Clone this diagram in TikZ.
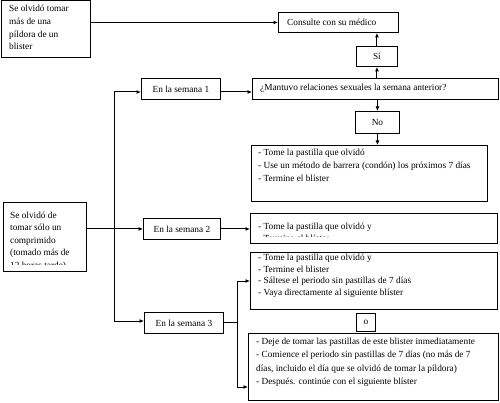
\documentclass[tikz,border=0pt]{standalone}
\usepackage{fontspec}
\setmainfont{Liberation Serif}
\usetikzlibrary{arrows.meta,calc}
\begin{document}
\begin{tikzpicture}[x=1pt,y=-1pt,
  box/.style={draw,line width=0.9pt,inner sep=0pt},
  txt/.style={anchor=north west,inner sep=0pt,align=left,font=\fontsize{9.3}{13}\selectfont},
  ctxt/.style={inner sep=0pt,font=\fontsize{9.3}{13}\selectfont},
  arr/.style={line width=1pt,-{Latex[length=4.5pt,width=4pt]}},
  ln/.style={line width=1pt}]
\useasboundingbox (0,0) rectangle (500,403);
% boxes
\node[box,minimum width=89.5pt,minimum height=56.5pt,anchor=north west] (A) at (0.5,0.5) {};
\node[txt,font=\fontsize{9.3}{12.7}\selectfont] at (9,5) {Se olvidó tomar\\más de una\\píldora de un\\blister};
\node[box,minimum width=120pt,minimum height=20pt,anchor=north west] (cons) at (278,12) {};
\node[ctxt,anchor=west] at (287,22) {Consulte con su médico};
\node[box,minimum width=41pt,minimum height=20pt,anchor=north west] (si) at (356,46) {};
\node[ctxt] at (si.center) {Sí};
\node[box,minimum width=246pt,minimum height=21pt,anchor=north west] (q) at (252,78) {};
\node[ctxt,anchor=west] at (260,88.5) {¿Mantuvo relaciones sexuales la semana anterior?};
\node[box,minimum width=44pt,minimum height=22pt,anchor=north west] (no) at (355,111) {};
\node[ctxt] at (no.center) {No};
\node[box,minimum width=236pt,minimum height=56pt,anchor=north west] (b1) at (251,145) {};
\node[txt] at (258,149) {- Tome la pastilla que olvidó\\- Use un método de barrera (condón) los próximos 7 días\\- Termine el blíster};
\node[box,minimum width=79pt,minimum height=21pt,anchor=north west] (s1) at (141,78) {};
\node[ctxt] at (s1.center) {En la semana 1};
\node[box,minimum width=77pt,minimum height=21pt,anchor=north west] (s2) at (143,218) {};
\node[ctxt] at (s2.center) {En la semana 2};
\node[box,minimum width=79pt,minimum height=21pt,anchor=north west] (s3) at (144,312) {};
\node[ctxt] at (s3.center) {En la semana 3};
\node[box,minimum width=83pt,minimum height=69pt,anchor=north west] (C) at (3,202) {};
\begin{scope}
\clip (3,202) rectangle (86,264);
\node[txt,font=\fontsize{9.3}{12.5}\selectfont] at (10,211.5) {Se olvidó de\\tomar sólo un\\comprimido\\(tomado más de\\12 horas tarde)};
\end{scope}
\node[box,minimum width=247pt,minimum height=30pt,anchor=north west] (b2) at (250,213) {};
\begin{scope}
\clip (250,213) rectangle (497,237);
\node[txt,font=\fontsize{9.3}{12}\selectfont] at (258,223) {- Tome la pastilla que olvidó y\\- Termine el blíster};
\end{scope}
\node[box,minimum width=247pt,minimum height=57pt,anchor=north west] (b3) at (250,252) {};
\node[txt,font=\fontsize{9.3}{11.5}\selectfont] at (258,254) {- Tome la pastilla que olvidó y\\- Termine el blister\\- Sáltese el periodo sin pastillas de 7 días\\- Vaya directamente al siguiente blíster};
\node[box,minimum width=19pt,minimum height=18pt,anchor=north west] (o) at (356,313) {};
\node[ctxt] at (o.center) {o};
\node[box,minimum width=250pt,minimum height=67pt,anchor=north west] (b4) at (248,333) {};
\node[txt,font=\fontsize{9.3}{13.3}\selectfont] at (256,338) {- Deje de tomar las pastillas de este blister inmediatamente\\- Comience el periodo sin pastillas de 7 días (no más de 7\\días, incluido el día que se olvidó de tomar la píldora)\\- Después. continúe con el siguiente blíster};
% connectors
\coordinate (t1) at (114,92);
\coordinate (t3) at (114,321);
\coordinate (j1) at (237,281);
\coordinate (j2) at (237,387);
\coordinate (j0) at (237,322);
\draw[arr] (A.east |- cons) -- (cons.west);
\draw[arr] (si.north) -- (si.north |- cons.south);
\draw[arr] (si.south |- q.north) -- (si.south);
\draw[arr] (no.north |- q.south) -- (no.north);
\draw[arr] (no.south) -- (no.south |- b1.north);
\draw[ln] (t1) -- (t3);
\draw[arr] (t1) -- (s1.west |- t1);
\draw[arr] (s1.east |- t1) -- (q.west |- t1);
\draw[arr] (C.east |- s2) -- (s2.west);
\draw[arr] (s2.east) -- (b2.west |- s2);
\draw[arr] (t3) -- (s3.west |- t3);
\draw[ln] (s3.east |- j0) -- (j0);
\draw[ln] (j1) -- (j2);
\draw[arr] (j1) -- (b3.west |- j1);
\draw[arr] (j2) -- (b4.west |- j2);
\end{tikzpicture}
\end{document}
